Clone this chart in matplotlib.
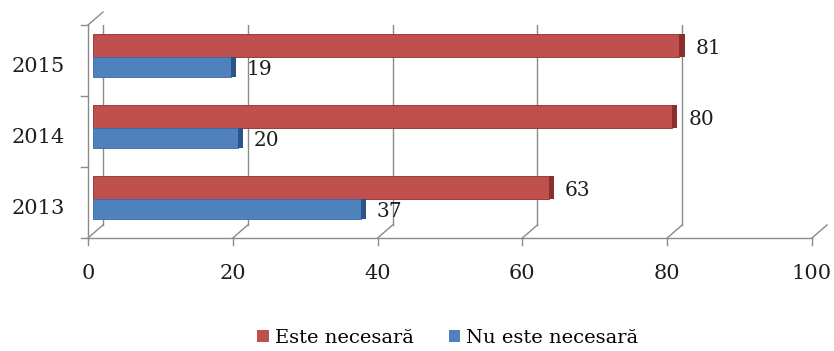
import matplotlib
matplotlib.use('Agg')
import matplotlib.pyplot as plt
from matplotlib.patches import Patch
from matplotlib.transforms import offset_copy

years = ['2013', '2014', '2015']
este_necesara = [63, 80, 81]
nu_este_necesara = [37, 20, 19]
xticks = [0, 20, 40, 60, 80, 100]

RED = '#C0504D'
RED_DARK = '#8C2E2B'
BLUE = '#4F81BD'
BLUE_DARK = '#2C5587'
GRID = '#8A8A8A'
TXT = '#1E1E1E'
FONT = 'DejaVu Serif'

W, H = 834, 351
fig = plt.figure(figsize=(W / 100, H / 100), dpi=100)
# front plane of the pseudo-3D box: x 0..100, categories at 0, 1, 2
ax = fig.add_axes([88 / W, (H - 238) / H, 724 / W, 213 / H])
ax.set_xlim(0, 100)
ax.set_ylim(-0.5, 2.5)
ax.axis('off')

# depth offsets (in pixels) for back wall and bar plane
back = offset_copy(ax.transData, fig=fig, x=15, y=13, units='dots')
mid = offset_copy(ax.transData, fig=fig, x=5, y=0, units='dots')
DX = 15 * 100 / 724
DY = 13 * 3 / 213

y0, y1 = -0.5, 2.5
# back wall gridlines
for xt in xticks:
    ax.plot([xt, xt], [y0, y1], color=GRID, lw=1, transform=back, zorder=1)
# floor: front edge, depth lines and tick marks
ax.plot([0, 100], [y0, y0], color=GRID, lw=1, zorder=1, clip_on=False)
for xt in xticks:
    ax.plot([xt, xt + DX], [y0, y0 + DY], color=GRID, lw=1, zorder=1, clip_on=False)
    ax.plot([xt, xt], [y0, y0 - 0.1], color=GRID, lw=1, zorder=1, clip_on=False)
    ax.text(xt, y0 - 0.5, str(xt), ha='center', va='center', fontsize=15,
            family=FONT, color=TXT)
# side wall: front edge with category ticks
ax.plot([0, 0], [y0, y1], color=GRID, lw=1, zorder=1, clip_on=False)
ax.plot([0, DX], [y1, y1 + DY], color=GRID, lw=1, zorder=1, clip_on=False)
for b in [y0, 0.5, 1.5, y1]:
    ax.plot([-0.9, 0], [b, b], color=GRID, lw=1, zorder=1, clip_on=False)

ypos = list(range(len(years)))
red_h, blue_h = 0.32, 0.28
red_y = [y + 0.05 for y in ypos]
blue_y = [y + 0.05 - blue_h for y in ypos]

# bar bodies
ax.barh(red_y, este_necesara, height=red_h, align='edge', color=RED,
        edgecolor=RED_DARK, linewidth=0.6, transform=mid, zorder=3)
ax.barh(blue_y, nu_este_necesara, height=blue_h, align='edge', color=BLUE,
        edgecolor='#3A6AA3', linewidth=0.6, transform=mid, zorder=3)
# darker end caps
ax.barh(red_y, [0.7] * 3, left=este_necesara, height=red_h, align='edge',
        color=RED_DARK, transform=mid, zorder=3)
ax.barh(blue_y, [0.7] * 3, left=nu_este_necesara, height=blue_h, align='edge',
        color=BLUE_DARK, transform=mid, zorder=3)

# value labels
for y, v in zip(red_y, este_necesara):
    ax.annotate(str(v), (v, y + red_h / 2), xycoords=mid, xytext=(16, -3),
                textcoords='offset pixels', ha='left', va='center',
                fontsize=14.5, family=FONT, color=TXT)
for y, v in zip(blue_y, nu_este_necesara):
    ax.annotate(str(v), (v, y + blue_h / 2), xycoords=mid, xytext=(16, -3),
                textcoords='offset pixels', ha='left', va='center',
                fontsize=14.5, family=FONT, color=TXT)

# category labels
for y, lab in zip(ypos, years):
    ax.text(-3.2, y - 0.09, lab, ha='right', va='center', fontsize=15,
            family=FONT, color=TXT)

handles = [Patch(facecolor=RED, edgecolor='none', label='Este necesară'),
           Patch(facecolor=BLUE, edgecolor='none', label='Nu este necesară')]
fig.legend(handles=handles, loc='center', bbox_to_anchor=(0.537, 0.037),
           ncol=2, frameon=False, prop={'family': FONT, 'size': 14},
           handlelength=0.6, handleheight=0.6, handletextpad=0.3,
           columnspacing=1.8)

fig.savefig('out.png', dpi=100)
